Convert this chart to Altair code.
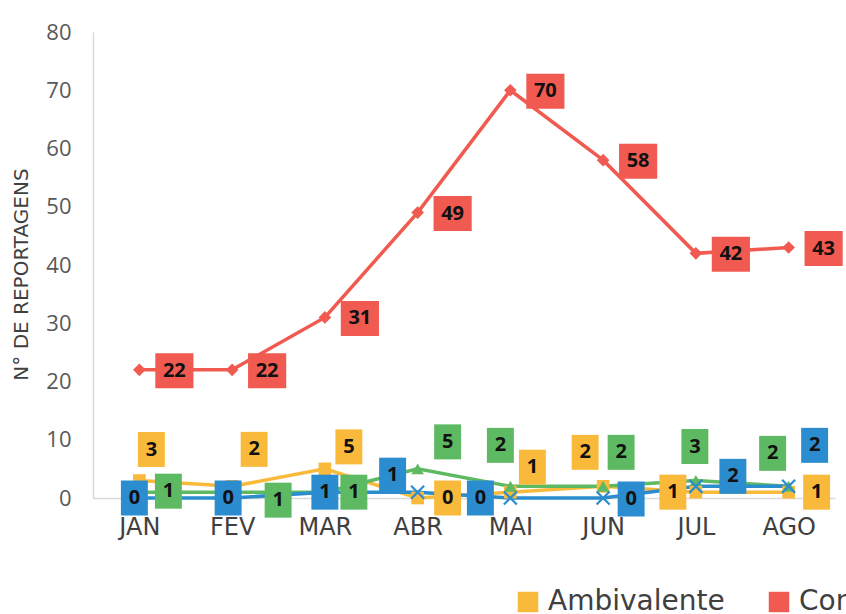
import altair as alt
import pandas as pd

# --- data -------------------------------------------------------------
months = ["JAN", "FEV", "MAR", "ABR", "MAI", "JUN", "JUL", "AGO"]
series_names = ["Ambivalente", "Contra", "Favorável", "Neutro"]
series_colors = ["#F9BA3C", "#F05A50", "#5EBA62", "#2B8CCF"]

ambivalente = [3, 2, 5, 0, 1, 2, 1, 1]
contra = [22, 22, 31, 49, 70, 58, 42, 43]
favoravel = [1, 1, 1, 5, 2, 2, 3, 2]
neutro = [0, 0, 1, 1, 0, 0, 2, 2]

# data-label placement: offset of each label box from its point, in pixels (right, down)
amb_dx = [12, 22, 24, 30, 22, -18, -23, 28]
amb_dy = [-31, -37, -22, 0, -25, -34, 0, 0]
con_dx = [35, 35, 35, 35, 35, 35, 35, 35]
con_dy = [1, 1, 1, 1, 1, 1, 1, 1]
fav_dx = [29, 46, 29, 30, -10, 18, -1, -16]
fav_dy = [-1, 8, 0, -27, -41, -34, -34, -33]
neu_dx = [-5, -4, 0, -25, -30, 28, 37, 26]
neu_dy = [0, 0, 0, -17, 0, 1, -10, -41]

# --- geometry ---------------------------------------------------------
W, H = 742, 466
PAD_LEFT, PAD_TOP = 93, 32
Y_MAX = 80

rows = []
for name, vals, dxs, dys in [
    ("Ambivalente", ambivalente, amb_dx, amb_dy),
    ("Contra", contra, con_dx, con_dy),
    ("Favorável", favoravel, fav_dx, fav_dy),
    ("Neutro", neutro, neu_dx, neu_dy),
]:
    for i, (v, dx, dy) in enumerate(zip(vals, dxs, dys)):
        rows.append({"idx": i, "mes": months[i], "serie": name,
                     "valor": v, "dx": dx, "dy": dy})
df = pd.DataFrame(rows)

label_expr = "[" + ",".join(f"'{m}'" for m in months) + "][datum.value]"

x_enc = alt.X(
    "idx:Q",
    scale=alt.Scale(domain=[-0.5, len(months) - 0.5], nice=False, zero=False),
    axis=alt.Axis(
        values=list(range(len(months))), labelExpr=label_expr, title=None,
        ticks=False, grid=False, domainColor="#D9D9D9", domainWidth=1.5,
        labelFont="DejaVu Sans", labelFontSize=24, labelColor="#404040",
        labelPadding=17,
    ),
)
y_enc = alt.Y(
    "valor:Q",
    scale=alt.Scale(domain=[0, Y_MAX], nice=False),
    axis=alt.Axis(
        values=list(range(0, Y_MAX + 1, 10)), ticks=False, grid=False,
        domainColor="#D9D9D9", domainWidth=1.5,
        labelFont="Open Sans", labelFontSize=22, labelColor="#595959",
        labelPadding=22,
        title="N° DE REPORTAGENS", titleFont="DejaVu Sans", titleFontSize=20,
        titleFontWeight="normal", titleColor="#404040",
        titleX=-72, titleY=242, titleAlign="center", titleBaseline="middle",
    ),
)
color_scale = alt.Scale(domain=series_names, range=series_colors)
color_plain = alt.Color("serie:N", scale=color_scale, legend=None)

base = alt.Chart(df)

lines = base.mark_line(strokeWidth=3.5).encode(
    x=x_enc, y=y_enc, color=color_plain, detail="serie:N", order="idx:Q"
)

marker_shapes = alt.Scale(
    domain=["Ambivalente", "Contra", "Favorável"],
    range=["square", "diamond", "triangle-up"],
)
markers = base.transform_filter(alt.datum.serie != "Neutro").mark_point(
    filled=True, opacity=1, size=160
).encode(
    x="idx:Q", y="valor:Q", color=color_plain,
    shape=alt.Shape("serie:N", scale=marker_shapes, legend=None),
)
crosses = base.transform_filter(alt.datum.serie == "Neutro").mark_point(
    shape="M-1,-1L1,1M-1,1L1,-1", size=170, strokeWidth=2.2, opacity=1
).encode(x="idx:Q", y="valor:Q", color=color_plain)

# label anchor positions in data units
labeled = base.transform_calculate(
    lx=f"datum.idx + datum.dx * {len(months)} / {W}",
    ly=f"datum.valor - datum.dy * {Y_MAX} / {H}",
)

box_narrow = labeled.transform_filter(alt.datum.valor < 10).mark_point(
    shape="M-0.77,-1H0.77V1H-0.77Z", size=1225, filled=True, opacity=1
).encode(x="lx:Q", y="ly:Q", color=color_plain)

box_wide = labeled.transform_filter(alt.datum.valor >= 10).mark_point(
    shape="M-1.09,-1H1.09V1H-1.09Z", size=1225, filled=True, opacity=1
).encode(
    x="lx:Q", y="ly:Q",
    color=alt.Color(
        "serie:N", scale=color_scale,
        legend=alt.Legend(
            title=None, orient="none", direction="horizontal",
            legendX=421, legendY=556, padding=0,
            symbolType="square", symbolSize=420, symbolStrokeWidth=0,
            symbolOpacity=1, labelFont="DejaVu Sans", labelFontSize=28,
            labelColor="#404040", labelLimit=400, labelOffset=6,
            columnPadding=40, values=series_names[:2],
        ),
    ),
)

labels = labeled.mark_text(
    font="Open Sans", fontWeight="bold", fontSize=20, color="#111111",
    baseline="middle", align="center",
).encode(x="lx:Q", y="ly:Q", text="valor:Q")

chart = (
    alt.layer(lines, markers, crosses, box_narrow, box_wide, labels)
    .resolve_legend(color="independent")
    .properties(
        width=W, height=H,
        autosize=alt.AutoSizeParams(type="none"),
        padding={"left": PAD_LEFT, "top": PAD_TOP,
                 "right": 846 - PAD_LEFT - W, "bottom": 614 - PAD_TOP - H},
        background="white",
    )
    .configure_view(stroke=None)
)

chart.save("out.html", embed_options={"renderer": "svg", "actions": False})
